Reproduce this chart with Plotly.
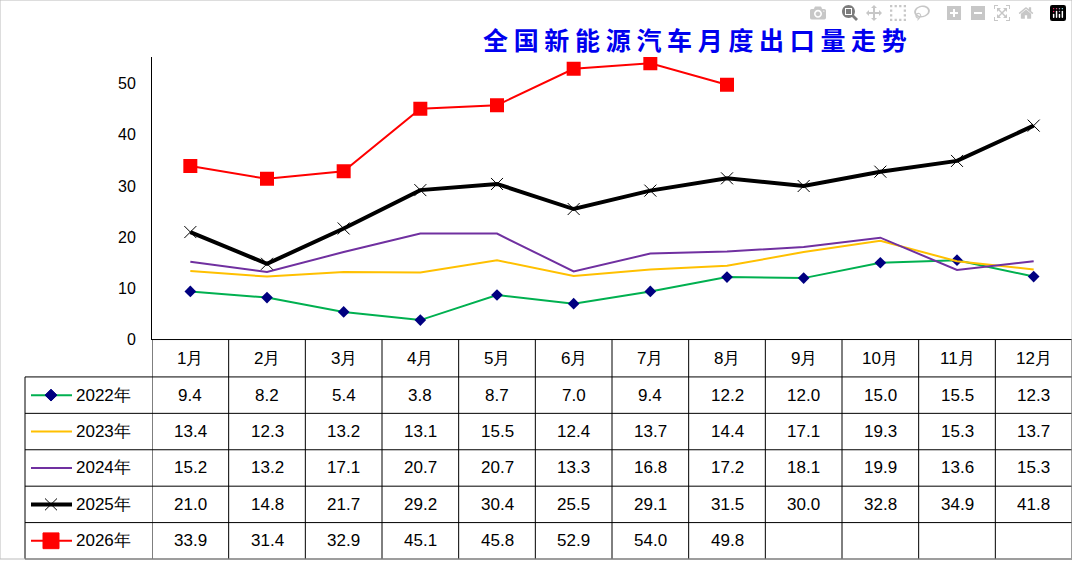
import plotly.graph_objects as go

months = ['1月', '2月', '3月', '4月', '5月', '6月', '7月', '8月', '9月', '10月', '11月', '12月']
s2022 = [9.4, 8.2, 5.4, 3.8, 8.7, 7.0, 9.4, 12.2, 12.0, 15.0, 15.5, 12.3]
s2023 = [13.4, 12.3, 13.2, 13.1, 15.5, 12.4, 13.7, 14.4, 17.1, 19.3, 15.3, 13.7]
s2024 = [15.2, 13.2, 17.1, 20.7, 20.7, 13.3, 16.8, 17.2, 18.1, 19.9, 13.6, 15.3]
s2025 = [21.0, 14.8, 21.7, 29.2, 30.4, 25.5, 29.1, 31.5, 30.0, 32.8, 34.9, 41.8]
s2026 = [33.9, 31.4, 32.9, 45.1, 45.8, 52.9, 54.0, 49.8]

W, H = 1072, 568
series = [
    ('2022年', s2022, '#00B050', 2, dict(symbol='diamond', size=9, color='#000080')),
    ('2023年', s2023, '#FFC000', 2, None),
    ('2024年', s2024, '#7030A0', 2, None),
    ('2025年', s2025, '#000000', 4, dict(symbol='x-thin', size=12, line=dict(color='#000000', width=1))),
    ('2026年', s2026, '#FF0000', 2, dict(symbol='square', size=14, color='#FF0000')),
]

fig = go.Figure()
for name, vals, color, width, marker in series:
    fig.add_trace(go.Scatter(
        x=list(range(len(vals))), y=vals, name=name,
        mode='lines+markers' if marker else 'lines',
        line=dict(color=color, width=width), marker=marker, showlegend=False))

def py(pix):
    return 1 - pix / H

def px(pix):
    return pix / W

table_top = py(345)
row_edges = [345, 383, 420, 457, 494, 531, 568]
font = dict(family='Liberation Sans, Arial', size=17, color='black')

shapes = []
annotations = []
# vertical column lines
for i in range(13):
    shapes.append(dict(type='line', xref='x', yref='paper', x0=i - 0.5, x1=i - 0.5,
                       y0=0, y1=table_top, line=dict(color='black', width=1)))
shapes.append(dict(type='line', xref='paper', yref='paper', x0=px(25), x1=px(25),
                   y0=0, y1=py(383), line=dict(color='black', width=1)))
# horizontal row lines
for k, e in enumerate(row_edges):
    x0 = px(152) if k == 0 else px(25)
    shapes.append(dict(type='line', xref='paper', yref='paper', x0=x0, x1=1,
                       y0=py(e), y1=py(e), line=dict(color='black', width=1)))

for i, m in enumerate(months):
    annotations.append(dict(x=i, y=py(364), xref='x', yref='paper', text=m,
                            yanchor='middle', showarrow=False, font=font))

for r, (name, vals, color, width, marker) in enumerate(series):
    cy = (row_edges[r + 1] + row_edges[r + 2]) / 2
    for i, v in enumerate(vals):
        annotations.append(dict(x=i, y=py(cy), xref='x', yref='paper', text=f'{v:.1f}',
                                yanchor='middle', showarrow=False, font=font))
    # legend key
    shapes.append(dict(type='line', xref='paper', yref='paper', x0=px(31), x1=px(72),
                       y0=py(cy), y1=py(cy), line=dict(color=color, width=width)))
    annotations.append(dict(x=px(74), y=py(cy), xref='paper', yref='paper', text=name,
                            xanchor='left', yanchor='middle', showarrow=False, font=font))
    mx = px(51)
    if marker and marker['symbol'] == 'diamond':
        d = 6
        shapes.append(dict(type='path', xref='paper', yref='paper',
                           path=f'M {mx} {py(cy - d)} L {px(51 + d)} {py(cy)} L {mx} {py(cy + d)} L {px(51 - d)} {py(cy)} Z',
                           fillcolor='#000080', line=dict(color='#000080', width=1)))
    elif marker and marker['symbol'] == 'square':
        d = 8
        shapes.append(dict(type='rect', xref='paper', yref='paper',
                           x0=px(51 - d), x1=px(51 + d), y0=py(cy + d), y1=py(cy - d),
                           fillcolor='#FF0000', line=dict(color='#FF0000', width=1)))
    elif marker:
        d = 6
        for a, b in ((-d, d), (d, -d)):
            shapes.append(dict(type='line', xref='paper', yref='paper',
                               x0=px(51 - d), x1=px(51 + d), y0=py(cy + a), y1=py(cy + b),
                               line=dict(color='black', width=1)))

# outer border
shapes.append(dict(type='rect', xref='paper', yref='paper', x0=0, x1=1, y0=0, y1=1,
                   line=dict(color='#BBBBBB', width=1)))

annotations.append(dict(x=px(695), y=py(40), xref='paper', yref='paper',
                        text='<b>全 国 新 能 源 汽 车 月 度 出 口 量 走 势</b>', showarrow=False,
                        yanchor='middle',
                        font=dict(family='Noto Sans CJK SC', size=25, color='#0000EE')))

fig.update_layout(
    width=W, height=H, margin=dict(l=0, r=0, t=0, b=0),
    paper_bgcolor='white', plot_bgcolor='white',
    shapes=shapes, annotations=annotations,
    xaxis=dict(domain=[px(152), 1], range=[-0.5, 11.5], showticklabels=False,
               showgrid=False, zeroline=False, showline=False),
    yaxis=dict(domain=[table_top, py(58)], range=[0, 50 * (345 - 58) / (345 - 85)],
               tickvals=[0, 10, 20, 30, 40, 50], showgrid=False, zeroline=False,
               showline=True, linecolor='black', ticks='', ticklabelstandoff=12,
               tickfont=dict(family='Liberation Sans, Arial', size=16, color='black')),
)

fig.write_html("out.html", post_script="document.body.style.margin='0';")
